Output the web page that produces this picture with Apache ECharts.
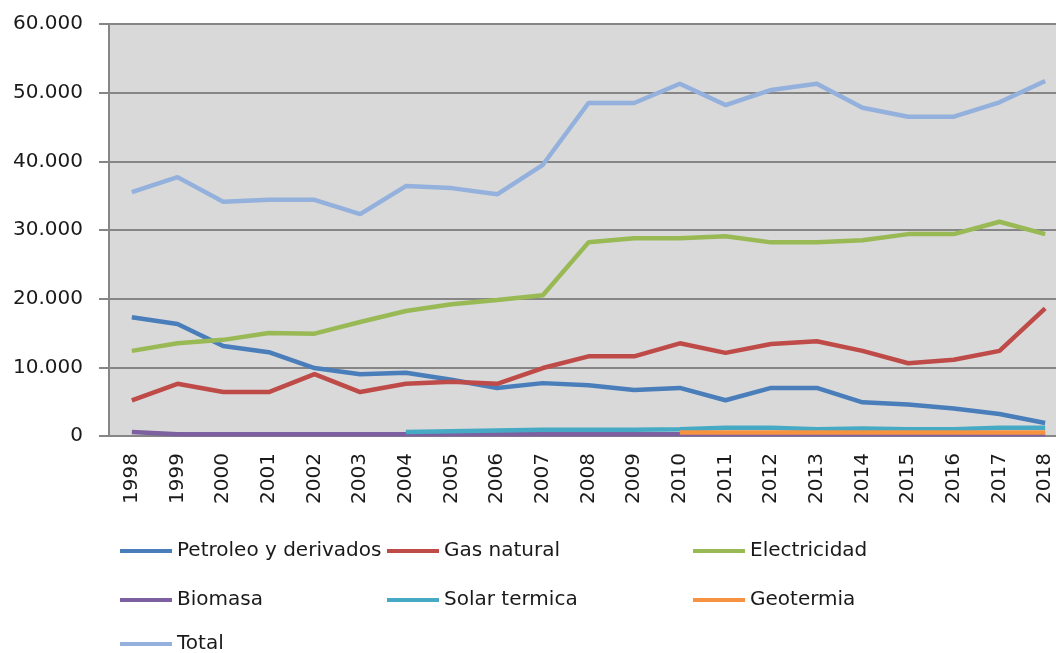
<!DOCTYPE html>
<html>
<head>
    <meta charset="UTF-8">
    <title>Consumo por fuente</title>
<script src="https://cdn.jsdelivr.net/npm/echarts@6/dist/echarts.min.js"></script>
</head>
<body style="margin:0;background:#fff;">
    <div id="main" style="width:1056px;height:653px;"></div>
    <script type="text/javascript">
        var years = ['1998','1999','2000','2001','2002','2003','2004','2005','2006','2007','2008',
                     '2009','2010','2011','2012','2013','2014','2015','2016','2017','2018'];
        var petroleo = [17300,16300,13100,12200,9900,9000,9200,8200,7000,7700,7400,
                        6700,7000,5200,7000,7000,4900,4600,4000,3200,1900];
        var gas = [5200,7600,6400,6400,9000,6400,7600,7900,7600,9900,11600,
                   11600,13500,12100,13400,13800,12400,10600,11100,12400,18600];
        var electricidad = [12400,13500,14000,15000,14900,16600,18200,19200,19800,20500,28200,
                            28800,28800,29100,28200,28200,28500,29400,29400,31200,29400];
        var biomasa = [600,250,250,250,250,250,250,250,250,250,250,
                       250,250,250,250,250,250,250,250,250,250];
        var solar = ['-','-','-','-','-','-',600,700,800,900,900,
                     900,1000,1200,1200,1000,1100,1000,1000,1200,1200];
        var geotermia = ['-','-','-','-','-','-','-','-','-','-','-',
                         '-',500,500,500,500,500,500,500,500,500];
        var total = [35500,37700,34100,34400,34400,32300,36400,36100,35200,39500,48500,
                     48500,51300,48200,50400,51300,47800,46500,46500,48600,51700];
        var yTicks = [0,10000,20000,30000,40000,50000,60000];

        var names = ['Petroleo y derivados','Gas natural','Electricidad','Biomasa','Solar termica','Geotermia','Total'];
        var colors = ['#4a7ebb','#be4b48','#98b954','#7d60a0','#46aac5','#f69240','#93b1dc'];
        var values = [petroleo, gas, electricidad, biomasa, solar, geotermia, total];

        var myChart = echarts.init(document.getElementById('main'));
        var font = 'DejaVu Sans';

        // legend placed in a 3 column layout, one component per entry
        var legendPos = [[120,541],[387,541],[693,541],[120,590],[387,590],[693,590],[120,634]];
        var legends = names.map(function (n, i) {
            return {
                data: [n],
                left: legendPos[i][0],
                top: legendPos[i][1],
                padding: 0,
                icon: 'rect',
                itemWidth: 52,
                itemHeight: 4,
                textStyle: { fontFamily: font, fontSize: 20, color: '#1a1a1a' }
            };
        });

        var series = names.map(function (n, i) {
            return {
                name: n,
                type: 'line',
                data: values[i],
                showSymbol: false,
                symbol: 'none',
                itemStyle: { color: colors[i] },
                lineStyle: { color: colors[i], width: 4.5 },
                emphasis: { disabled: true },
                animation: false
            };
        });

        var option = {
            backgroundColor: '#fff',
            grid: {
                show: true,
                left: 109,
                top: 24,
                width: 959,
                height: 412,
                outerBoundsMode: 'none',
                containLabel: false,
                backgroundColor: '#d9d9d9',
                borderWidth: 0
            },
            legend: legends,
            xAxis: {
                type: 'category',
                data: years,
                boundaryGap: true,
                axisLine: { lineStyle: { color: '#868686', width: 2 } },
                axisTick: { length: 9, lineStyle: { color: '#868686', width: 2 } },
                axisLabel: {
                    rotate: 90,
                    margin: 17,
                    fontFamily: font,
                    fontSize: 20,
                    color: '#1a1a1a',
                    interval: 0
                }
            },
            yAxis: {
                type: 'value',
                min: yTicks[0],
                max: yTicks[yTicks.length - 1],
                interval: 10000,
                axisLine: { show: true, lineStyle: { color: '#868686', width: 2 } },
                axisTick: { show: true, length: 10, lineStyle: { color: '#868686', width: 2 } },
                splitLine: { lineStyle: { color: '#868686', width: 2 } },
                axisLabel: {
                    margin: 26,
                    fontFamily: font,
                    fontSize: 20,
                    color: '#1a1a1a',
                    formatter: function (v) {
                        if (v === 0) return '0';
                        return (v / 1000) + '.000';
                    }
                }
            },
            series: series
        };
        myChart.setOption(option);
    </script>
</body>
</html>
